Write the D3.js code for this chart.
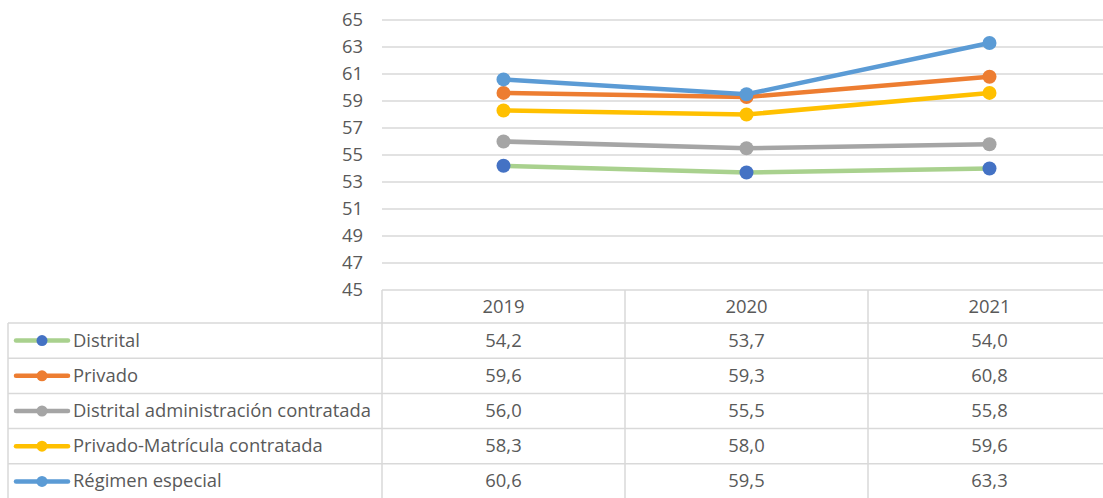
<!doctype html>
<html>
<head>
<meta charset="utf-8">
<script src="https://cdn.jsdelivr.net/npm/d3@7"></script>
<style>
  body { margin: 0; background: #fff; }
  text { font-family: "Open Sans", "Liberation Sans", sans-serif; fill: #595959; }
</style>
</head>
<body>
<script>
const w = 1103, h = 498;

// data
const years = ["2019", "2020", "2021"];
const seriesNames = ["Distrital", "Privado", "Distrital administración contratada", "Privado-Matrícula contratada", "Régimen especial"];
const distrital = [54.2, 53.7, 54.0];
const privado = [59.6, 59.3, 60.8];
const distritalAdm = [56.0, 55.5, 55.8];
const privadoMat = [58.3, 58.0, 59.6];
const regimen = [60.6, 59.5, 63.3];
const lineColors = ["#A9D18E", "#ED7D31", "#A5A5A5", "#FFC000", "#5B9BD5"];
const markerColors = ["#4472C4", "#ED7D31", "#A5A5A5", "#FFC000", "#5B9BD5"];
const yTicks = d3.range(45, 66, 2);

const allSeries = [distrital, privado, distritalAdm, privadoMat, regimen];
const fs = "18.4px";

const svg = d3.select("body").append("svg")
  .attr("width", w)
  .attr("height", h);

const x = d3.scaleBand().domain(years).range([382, 382 + 3 * 243]);
const y = d3.scaleLinear().domain([45, 65]).range([290, 20]);

// gridlines
svg.selectAll("line.grid")
  .data(yTicks.slice(1))
  .enter().append("line")
  .attr("x1", 382).attr("x2", w)
  .attr("y1", d => y(d)).attr("y2", d => y(d))
  .style("stroke", "#d9d9d9").style("stroke-width", 1.3);

// y labels
svg.selectAll("text.ylab")
  .data(yTicks)
  .enter().append("text")
  .attr("x", 363).attr("y", d => y(d) + 6)
  .attr("text-anchor", "end")
  .style("font-size", fs)
  .text(d => d);

// data table
const rowTop = 290, headH = 33, rowH = 35.2;
const tbl = svg.append("g");
const tableRight = w;

tbl.append("line").attr("x1", 382).attr("x2", tableRight).attr("y1", rowTop).attr("y2", rowTop);
d3.range(seriesNames.length).forEach(i => {
  const yy = rowTop + headH + i * rowH;
  tbl.append("line").attr("x1", 8).attr("x2", tableRight).attr("y1", yy).attr("y2", yy);
});
tbl.append("line").attr("x1", 8).attr("x2", 8).attr("y1", rowTop + headH).attr("y2", h);
years.forEach(yr => {
  tbl.append("line").attr("x1", x(yr)).attr("x2", x(yr)).attr("y1", rowTop).attr("y2", h);
});
tbl.selectAll("line").style("stroke", "#d9d9d9").style("stroke-width", 1.5);

// header labels
tbl.selectAll("text.year")
  .data(years)
  .enter().append("text")
  .attr("x", d => x(d) + x.bandwidth() / 2)
  .attr("y", rowTop + headH / 2 + 6)
  .attr("text-anchor", "middle")
  .style("font-size", fs)
  .text(d => d);

// rows
seriesNames.forEach((name, i) => {
  const cy = rowTop + headH + i * rowH + rowH / 2;
  tbl.append("line")
    .attr("x1", 16).attr("x2", 68).attr("y1", cy).attr("y2", cy)
    .style("stroke", lineColors[i]).style("stroke-width", 4.5).style("stroke-linecap", "round");
  tbl.append("circle").attr("cx", 42).attr("cy", cy).attr("r", 5.5).style("fill", markerColors[i]);
  tbl.append("text").attr("x", 73).attr("y", cy + 6).style("font-size", fs).text(name);
  years.forEach((yr, j) => {
    tbl.append("text")
      .attr("x", x(yr) + x.bandwidth() / 2).attr("y", cy + 6)
      .attr("text-anchor", "middle")
      .style("font-size", fs)
      .text(allSeries[i][j].toFixed(1).replace(".", ","));
  });
});

// lines + markers
const line = d3.line()
  .x((d, j) => x(years[j]) + x.bandwidth() / 2)
  .y(d => y(d));

allSeries.forEach((vals, i) => {
  svg.append("path")
    .datum(vals)
    .attr("d", line)
    .style("fill", "none")
    .style("stroke", lineColors[i])
    .style("stroke-width", 4.5)
    .style("stroke-linejoin", "round");
  svg.selectAll(null)
    .data(vals)
    .enter().append("circle")
    .attr("cx", (d, j) => x(years[j]) + x.bandwidth() / 2)
    .attr("cy", d => y(d))
    .attr("r", 7)
    .style("fill", markerColors[i]);
});
</script>
</body>
</html>
